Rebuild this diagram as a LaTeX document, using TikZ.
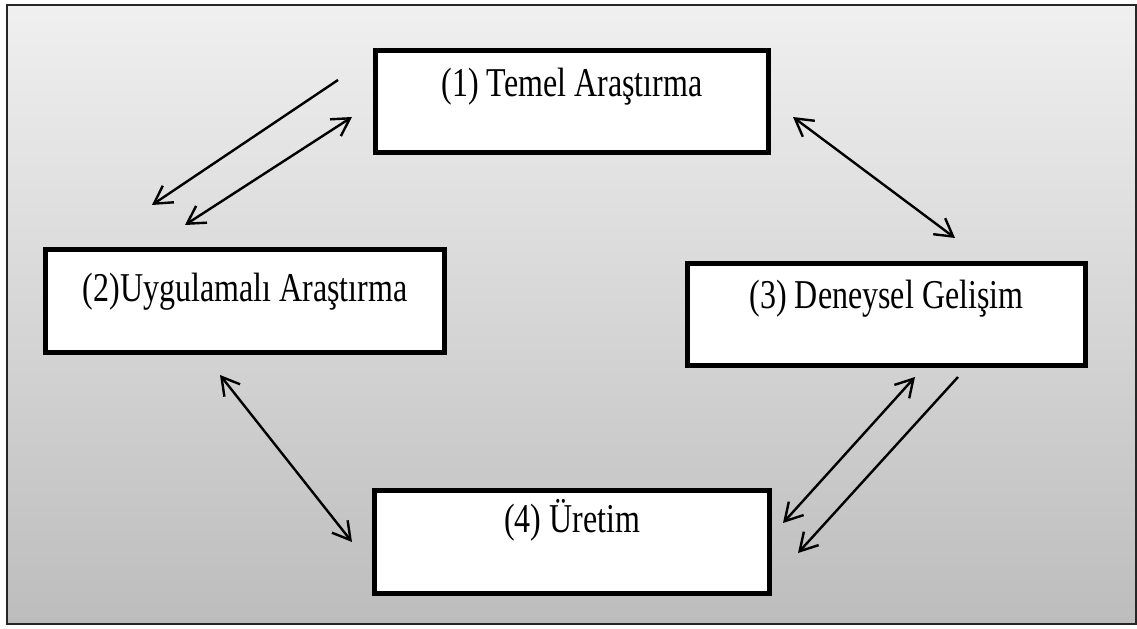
\documentclass[tikz,border=0pt]{standalone}
\usepackage{graphicx}
\usepackage{fontspec}
\setmainfont{Liberation Serif}
\usetikzlibrary{arrows.meta, positioning}
\tikzset{
    stageBox/.style={rectangle, draw, line width=3.75pt, fill=white, inner sep=0pt, font=\fontsize{24}{28}\selectfont},
    flowOne/.style={-{Straight Barb[length=13pt, width=15pt]}, line width=1.8pt},
    flowTwo/.style={{Straight Barb[length=13pt, width=15pt]}-{Straight Barb[length=13pt, width=15pt]}, line width=1.8pt},
}
\newcommand{\tallText}[1]{\scalebox{1}[1.28]{#1}}
\newcommand{\drawFlow}[3][flowTwo]{
    \draw[#1] (#2) -- (#3);
}
\begin{document}
\begin{tikzpicture}[x=0.75pt, y=0.75pt]
        \useasboundingbox (0,0) rectangle (1137,628);
        % arka plan
        \shade[top color=black!6, bottom color=black!26] (7,4) rectangle (1136,623);
        \draw[line width=1.5pt, black!85] (7,4) rectangle (1136,623);

        \node[stageBox, minimum width=294.75pt, text height=34.4pt, text depth=42.1pt] (basic) at (572,526.5) {\tallText{(1) Temel Araştırma}};
        \node[stageBox, minimum width=299.25pt, text height=38.9pt, text depth=38.4pt] (applied) at (245,327) {\tallText{(2)Uygulamalı Araştırma}};
        \node[stageBox, minimum width=298.5pt, text height=33.4pt, text depth=43.1pt] (experimental) at (886.5,313.5) {\tallText{(3) Deneysel Gelişim}};
        \node[stageBox, minimum width=296.25pt, text height=31.4pt, text depth=45.9pt] (production) at (572,86) {\tallText{(4) Üretim}};

        \coordinate (ba1) at (338,548);
        \coordinate (ba2) at (152,423);
        \coordinate (ab1) at (352,511);
        \coordinate (ab2) at (185,403);
        \coordinate (be1) at (793,511);
        \coordinate (be2) at (955,390);
        \coordinate (ep1) at (915,251);
        \coordinate (ep2) at (783,105);
        \coordinate (ep3) at (958,251);
        \coordinate (ep4) at (798,75);
        \coordinate (ap1) at (220,253);
        \coordinate (ap2) at (352,86);

        \drawFlow[flowOne]{ba1}{ba2}
        \drawFlow{ab1}{ab2}
        \drawFlow{be1}{be2}
        \drawFlow{ep1}{ep2}
        \drawFlow[flowOne]{ep3}{ep4}
        \drawFlow{ap1}{ap2}

    \end{tikzpicture}
\end{document}
